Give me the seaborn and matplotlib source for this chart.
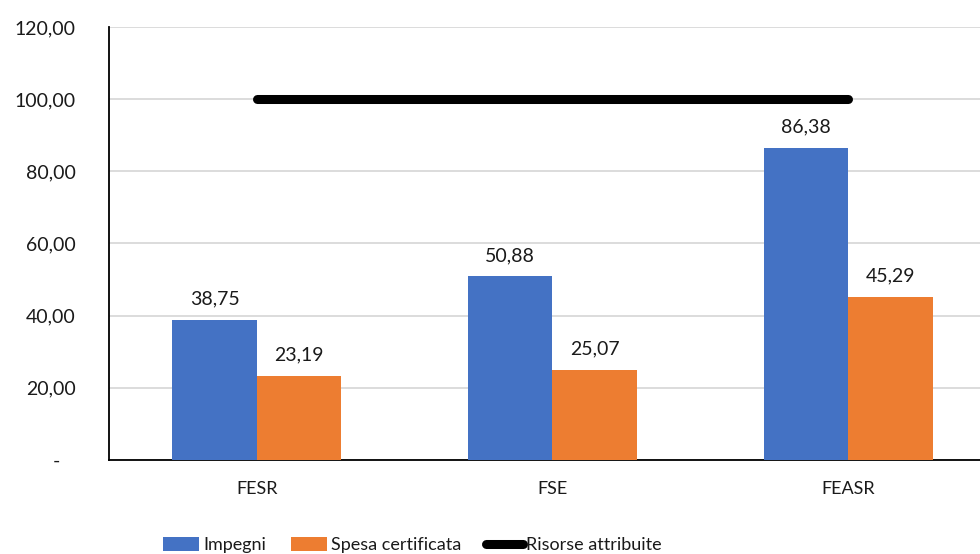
import matplotlib
matplotlib.use("Agg")
import matplotlib.pyplot as plt
from matplotlib.patches import Patch
from matplotlib.lines import Line2D
import seaborn as sns
import pandas as pd

categories = ["FESR", "FSE", "FEASR"]
impegni = [38.75, 50.88, 86.38]
spesa_certificata = [23.19, 25.07, 45.29]
risorse_attribuite = [100.0, 100.0, 100.0]
series_names = ["Impegni", "Spesa certificata", "Risorse attribuite"]
y_ticks = [0, 20, 40, 60, 80, 100, 120]

BLUE = "#4472C4"
ORANGE = "#ED7D31"

sns.set_theme(style="white")
plt.rcParams["font.family"] = ["Lato", "DejaVu Sans"]

df = pd.DataFrame({
    "categoria": categories * 2,
    "serie": [series_names[0]] * 3 + [series_names[1]] * 3,
    "valore": impegni + spesa_certificata,
})

fig = plt.figure(figsize=(9.8, 5.54), dpi=100)
ax = fig.add_axes([0.1112, 0.1697, 0.8888, 0.7816])

sns.barplot(data=df, x="categoria", y="valore", hue="serie",
            palette=[BLUE, ORANGE], width=0.572, saturation=1,
            linewidth=0, edgecolor="none",
            ax=ax, legend=False, zorder=3)

for cont in ax.containers:
    ax.bar_label(cont, labels=[f"{v:.2f}".replace(".", ",") for v in cont.datavalues],
                 padding=9, fontsize=14, color="#1a1a1a")

ax.plot(range(len(categories)), risorse_attribuite, color="black", lw=6.5,
        solid_capstyle="round", zorder=4)

ax.set_ylim(0, 120)
ax.set_xlim(-0.5, 2.446)
ax.set_yticks(y_ticks)
ax.set_yticklabels(["-   " if v == 0 else f"{v:.2f}".replace(".", ",") for v in y_ticks],
                   fontsize=14, color="#1a1a1a")
ax.tick_params(axis="y", length=0, pad=24)
ax.tick_params(axis="x", length=0, pad=15, labelsize=13, labelcolor="#1a1a1a")
ax.set_xlabel("")
ax.set_ylabel("")
ax.yaxis.grid(True, color="#d9d9d9", lw=1.3, zorder=0)
ax.set_axisbelow(True)
for side in ["top", "right"]:
    ax.spines[side].set_visible(False)
for side in ["left", "bottom"]:
    ax.spines[side].set_color("black")
    ax.spines[side].set_linewidth(1.3)

handles = [
    Patch(facecolor=BLUE, edgecolor="none"),
    Patch(facecolor=ORANGE, edgecolor="none"),
    Line2D([0], [0], color="black", lw=6.5, solid_capstyle="round"),
]
fig.legend(handles, series_names, loc="lower center", bbox_to_anchor=(0.421, -0.028),
           ncol=3, frameon=False, fontsize=13, handlelength=2.0, handleheight=0.8,
           handletextpad=0.2, columnspacing=1.4, labelcolor="#1a1a1a")

fig.savefig("out.png", dpi=100)
